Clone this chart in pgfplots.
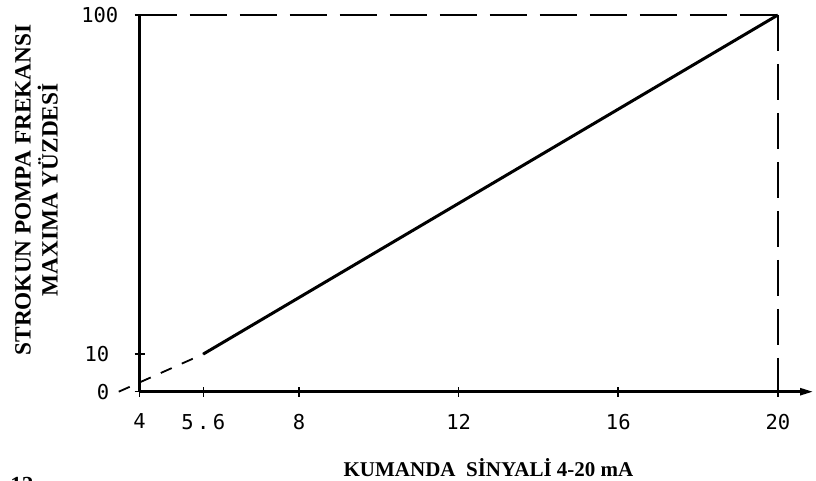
\documentclass[border=0pt]{standalone}
\usepackage{pgfplots}
\pgfplotsset{compat=1.18}
\usepackage{fontspec}
\setmainfont{Liberation Serif}
\newfontfamily\monofont{DejaVu Sans Mono}
\usetikzlibrary{arrows.meta}
\begin{document}
\begin{tikzpicture}
\path[use as bounding box] (0,0) rectangle (816pt,481pt);
\begin{axis}[
  at={(139.5pt,89.3pt)}, anchor=south west,
  scale only axis, width=673.5pt, height=376.7pt,
  xmin=4, xmax=20.88, ymin=0, ymax=100,
  clip=false,
  axis lines*=left,
  axis line style={line width=2.4pt},
  x axis line style={-{Stealth[length=13pt,width=7pt,inset=0pt]}},
  xtick={4,5.6,8,12,16,20},
  xticklabels={4,{5\kern3.5pt.\kern3.5pt6},8,12,16,20},
  ytick={0,10,100},
  yticklabels={0,10,{100\kern-9pt}},
  tick align=center,
  major tick length=10pt,
  tick style={black, line width=1.6pt},
  /pgf/number format/assume math mode=true,
  ticklabel style={font=\monofont\fontsize{20.5}{24}\selectfont, inner sep=0pt},
  xticklabel style={anchor=north, yshift=-17pt},
  yticklabel style={anchor=east, xshift=-25pt},
  xlabel={KUMANDA\ \ SİNYALİ 4-20 mA},
  xlabel style={font=\bfseries\fontsize{21}{25}\selectfont, at={(axis description cs:0.5182,-0.2238)}, anchor=base, inner sep=0pt},
  ylabel={STROKUN POMPA FREKANSI\\MAXIMA YÜZDESİ},
  ylabel style={font=\bfseries\fontsize{23.3}{27}\selectfont, align=center, at={(axis description cs:-0.1529,0.5354)}, anchor=center, rotate=0, inner sep=0pt},
]
\addplot[black, line width=1.8pt, dash pattern=on 12pt off 11pt] coordinates {(3.48,0) (5.6,10)};
\addplot[black, line width=3pt] coordinates {(5.6,10) (20,100)};
\addplot[black, line width=1.5pt, dash pattern=on 37pt off 13pt] coordinates {(4,100) (20,100)};
\addplot[black, line width=1.5pt, dash pattern=on 36pt off 13pt] coordinates {(20,100) (20,0)};
\node[font=\bfseries\fontsize{23}{27}\selectfont, anchor=base west, inner sep=0pt] at (axis description cs:-0.192,-0.2667) {12};
\end{axis}
\end{tikzpicture}
\end{document}
